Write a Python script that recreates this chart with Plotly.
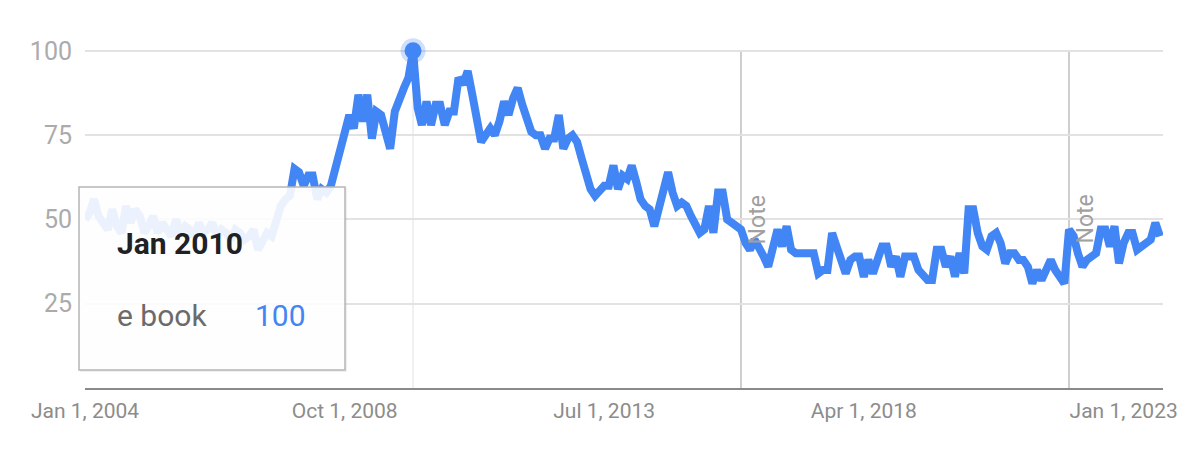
import pandas as pd
import plotly.graph_objects as go

# ---------------- data ----------------
series_name = "e book"
start_month = "2004-01-01"
values = [
    50, 52, 56, 51, 49, 47, 53, 48, 46, 54, 49, 53,
    51, 46, 48, 51, 46, 49, 47, 45, 50, 46, 48, 47,
    45, 49, 46, 47, 49, 45, 47, 46, 44, 47, 46, 44,
    45, 47, 41, 44, 46, 45, 50, 54, 56, 57, 65, 64,
    60, 63, 63, 56, 59, 58, 60, 65, 69, 74, 81, 77,
    87, 79, 87, 74, 82, 81, 75, 71, 82, 86, 89, 92,
    100, 83, 78, 85, 78, 84, 84, 78, 82, 82, 92, 90,
    94, 87, 79, 73, 75, 77, 75, 79, 85, 81, 86, 89,
    84, 79, 76, 75, 75, 71, 74, 74, 81, 71, 74, 75,
    73, 68, 63, 59, 57, 59, 60, 60, 66, 59, 63, 62,
    66, 61, 56, 54, 53, 48, 54, 60, 64, 58, 54, 55,
    54, 51, 48, 46, 47, 54, 46, 58, 58, 50, 49, 48,
    47, 43, 41, 44, 42, 39, 36, 42, 47, 42, 48, 41,
    40, 40, 40, 40, 40, 34, 35, 35, 46, 42, 37, 34,
    38, 39, 39, 33, 38, 34, 38, 42, 42, 36, 39, 33,
    39, 39, 39, 35, 33, 32, 32, 41, 41, 36, 39, 33,
    40, 34, 53, 53, 46, 42, 41, 45, 46, 43, 37, 40,
    40, 38, 38, 36, 31, 35, 32, 35, 38, 35, 33, 31,
    47, 45, 40, 36, 38, 39, 40, 47, 47, 42, 48, 37,
    43, 46, 46, 41, 42, 43, 44, 49, 45,
]
note_dates = ["2016-01-01", "2022-01-01"]
x_tick_vals = ["2004-01-01", "2008-10-01", "2013-07-01", "2018-04-01", "2023-01-01"]
x_tick_text = ["Jan 1, 2004", "Oct 1, 2008", "Jul 1, 2013", "Apr 1, 2018", "Jan 1, 2023"]
y_tick_vals = [25, 50, 75, 100]
x_range = ["2004-01-01", "2023-09-21"]
y_range = [0, 105]

dates = pd.date_range(start_month, periods=len(values), freq="MS")
peak_idx = max(range(len(values)), key=lambda i: values[i])
peak_date = dates[peak_idx]
peak_val = values[peak_idx]

BLUE = "#4285f4"
FONT = "Roboto"

fig = go.Figure()

fig.add_trace(go.Scatter(
    x=dates, y=values, mode="lines",
    line=dict(color=BLUE, width=8, shape="linear"),
    hoverinfo="skip", showlegend=False,
))

# peak marker with halo
fig.add_trace(go.Scatter(
    x=[peak_date], y=[peak_val], mode="markers",
    marker=dict(size=25, color="rgba(66,133,244,0.25)", line=dict(width=0)),
    hoverinfo="skip", showlegend=False, cliponaxis=False,
))
fig.add_trace(go.Scatter(
    x=[peak_date], y=[peak_val], mode="markers",
    marker=dict(size=17, color=BLUE, line=dict(width=0)),
    hoverinfo="skip", showlegend=False, cliponaxis=False,
))

shapes = []
shapes.append(dict(type="line", xref="x", yref="y", x0=peak_date, x1=peak_date,
                   y0=0, y1=peak_val, line=dict(color="#ececec", width=1.5), layer="below"))
for d in note_dates:
    shapes.append(dict(type="line", xref="x", yref="y", x0=d, x1=d, y0=0, y1=100,
                       line=dict(color="#c9c9c9", width=1.8), layer="below"))

# plot area in page pixels: x 85..1163, y 34..388
plot_w = 1163 - 85
plot_h = 388 - 34
def px_x(p):
    return (p - 85) / plot_w
def px_y(p):
    return (388 - p) / plot_h

bx0, bx1, by0, by1 = px_x(79), px_x(345), px_y(370), px_y(187)
shapes.append(dict(type="rect", xref="paper", yref="paper",
                   x0=bx0 + 0.001, x1=bx1 + 0.002, y0=by0 - 0.006, y1=by1 - 0.002,
                   fillcolor="rgba(0,0,0,0.06)", line=dict(width=0), layer="above"))
shapes.append(dict(type="rect", xref="paper", yref="paper",
                   x0=bx0, x1=bx1, y0=by0, y1=by1,
                   fillcolor="rgba(255,255,255,0.9)",
                   line=dict(color="#b5b5b5", width=1.5), layer="above"))

annotations = []
for d in note_dates:
    annotations.append(dict(x=d, y=50, xref="x", yref="y", text="Note", showarrow=False,
                            textangle=-90, xshift=16, xanchor="center", yanchor="middle",
                            font=dict(family=FONT, size=23, color="#a0a0a0")))

annotations.append(dict(x=px_x(115), y=px_y(243), xref="paper", yref="paper",
                        text="<b>" + peak_date.strftime("%b %Y") + "</b>", showarrow=False,
                        xanchor="left", yanchor="middle",
                        font=dict(family=FONT, size=30, color="#202124")))
annotations.append(dict(x=px_x(115), y=px_y(315), xref="paper", yref="paper",
                        text=series_name, showarrow=False, xanchor="left", yanchor="middle",
                        font=dict(family=FONT, size=30, color="#6b6b6b")))
annotations.append(dict(x=px_x(308), y=px_y(315), xref="paper", yref="paper",
                        text=str(peak_val), showarrow=False, xanchor="right", yanchor="middle",
                        font=dict(family=FONT, size=30, color=BLUE)))

fig.update_layout(
    width=1200, height=455,
    margin=dict(l=77, r=45, t=26, b=75),
    paper_bgcolor="white", plot_bgcolor="white",
    shapes=shapes, annotations=annotations,
    showlegend=False,
    xaxis=dict(type="date", range=x_range, showgrid=False, zeroline=False,
               showline=True, linecolor="#8a8a8a", linewidth=2,
               tickmode="array", tickvals=x_tick_vals, ticktext=x_tick_text,
               ticks="", ticklabelstandoff=3,
               tickfont=dict(family=FONT, size=21, color="#8c8c8c")),
    yaxis=dict(range=y_range, tickmode="array", tickvals=y_tick_vals,
               showgrid=True, gridcolor="#e2e2e2", gridwidth=2,
               zeroline=False, showline=False, ticks="", ticklabelstandoff=12,
               tickfont=dict(family=FONT, size=25, color="#ababab")),
)

fig.write_html("out.html")
